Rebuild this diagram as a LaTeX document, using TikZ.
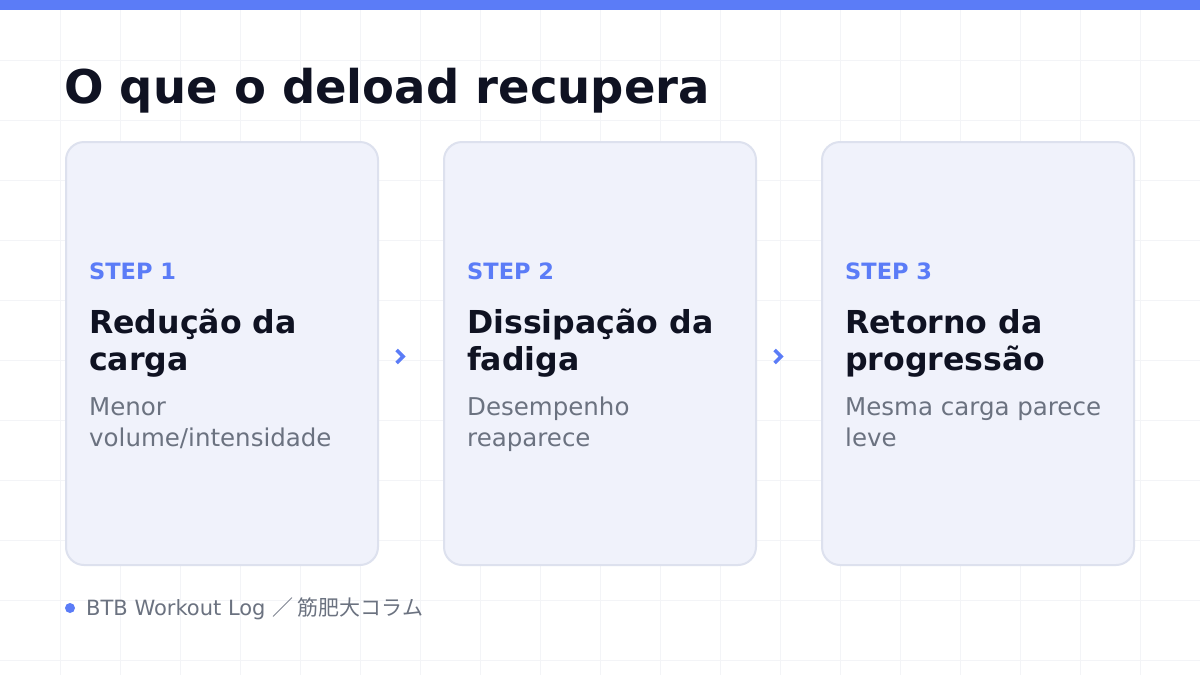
\documentclass[tikz,border=0pt]{standalone}
\usepackage{fontspec}
\setmainfont{DejaVu Sans}
\newfontfamily\cjk{Noto Sans CJK JP}
\usetikzlibrary{positioning,calc}

\definecolor{accent}{HTML}{5B7CF7}
\definecolor{ink}{HTML}{0F1222}
\definecolor{muted}{HTML}{6B7280}
\definecolor{cardfill}{HTML}{F0F2FB}
\definecolor{cardline}{HTML}{DDE1EE}
\definecolor{gridc}{HTML}{F3F4F7}

\begin{document}
\begin{tikzpicture}[x=1pt,y=-1pt,
  card/.style={draw=cardline,line width=2pt,fill=cardfill,rounded corners=18pt,
    minimum width=312pt,minimum height=423pt,inner sep=0pt},
  steptag/.style={anchor=base west,inner sep=0pt,text=accent,font=\fontsize{22.5}{26}\selectfont\bfseries},
  headline/.style={anchor=base west,inner sep=0pt,text=ink,font=\fontsize{31.6}{38}\selectfont\bfseries},
  bodyline/.style={anchor=base west,inner sep=0pt,text=muted,font=\fontsize{24.5}{30}\selectfont},
  chevron/.style={draw=accent,line width=3.6pt,miter limit=10}]
\useasboundingbox (0,0) rectangle (1200,675);
\fill[white] (0,0) rectangle (1200,675);
% faint grid
\foreach \gx in {60,120,...,1140}
  \draw[gridc,line width=1pt] (\gx,10) -- (\gx,675);
\foreach \gy in {60,120,...,660}
  \draw[gridc,line width=1pt] (0,\gy) -- (1200,\gy);
\fill[accent] (0,0) rectangle (1200,10);

\node[anchor=base west,inner sep=0pt,text=ink,font=\fontsize{46.5}{56}\selectfont\bfseries] (title) at (64,103) {O que o deload recupera};

% cards
\node[card,anchor=north west] (card1) at (65,141) {};
\node[card,right=64pt of card1] (card2) {};
\node[card,right=64pt of card2] (card3) {};

\foreach \c/\s/\ha/\hb/\ba/\bb in {
  1/STEP 1/Redução da/carga/Menor/volume\slash intensidade,
  2/STEP 2/Dissipação da/fadiga/Desempenho/reaparece,
  3/STEP 3/Retorno da/progressão/Mesma carga parece/leve}{
  \node[steptag] (step\c) at ($(card\c.north west)+(24,138)$) {\s};
  \node[headline] (head\c a) at ($(card\c.north west)+(24,192)$) {\ha};
  \node[headline] (head\c b) at ($(card\c.north west)+(24,229)$) {\hb};
  \node[bodyline] (body\c a) at ($(card\c.north west)+(24,274)$) {\ba};
  \node[bodyline] (body\c b) at ($(card\c.north west)+(24,305)$) {\bb};
}

% chevrons between cards
\coordinate (arr1) at ($(card1.east)!0.33!(card2.west)+(0,3)$);
\coordinate (arr2) at ($(card2.east)!0.33!(card3.west)+(0,3)$);
\foreach \a in {arr1,arr2}
  \draw[chevron] ($(\a)+(-3.5,-6.5)$) -- ($(\a)+(3,0)$) -- ($(\a)+(-3.5,6.5)$);

% footer
\fill[accent] (70,608) circle (5);
\node[anchor=base west,inner sep=0pt,text=muted,font=\fontsize{21}{24}\selectfont] (footer) at (86,615) {BTB Workout Log {\cjk ／ 筋肥大コラム}};
\end{tikzpicture}
\end{document}
